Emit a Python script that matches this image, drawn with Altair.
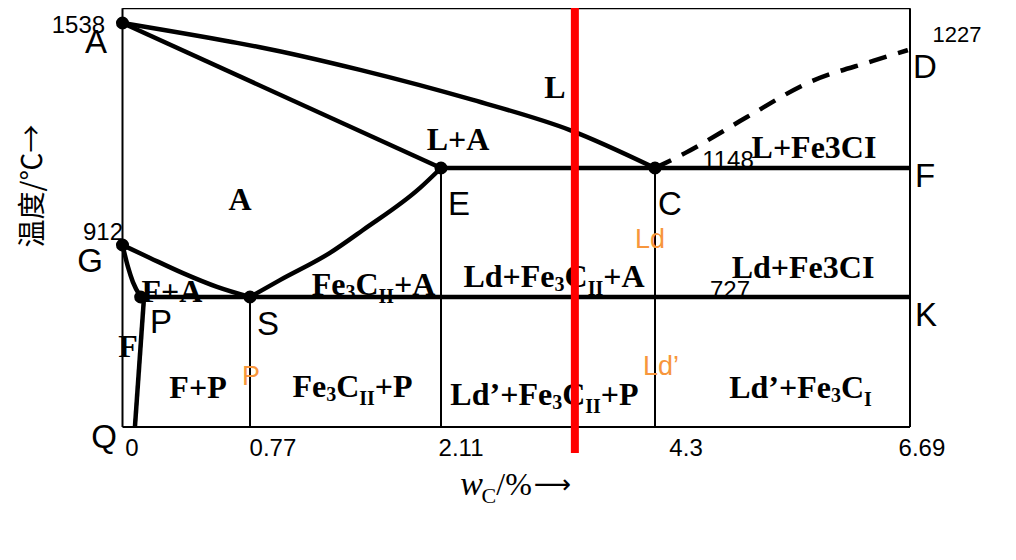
import altair as alt
import pandas as pd

# ---------------- data (wt% C, temperature in degC; schematic diagram) ----------------
x_ticks = [0, 0.77, 2.11, 4.3, 6.69]
x_tick_labels = ["0", "0.77", "2.11", "4.3", "6.69"]
tick_label_c = [0.057, 0.931, 2.315, 4.591, 6.802]
tick_label_t = [-162, -162, -162, -162, -162]
t_breaks = [0, 727, 912, 1148, 1538]

# key points
pt_name = ["A", "G", "P", "S", "E", "C"]
pt_c = [0, 0, 0.11, 0.77, 2.11, 4.3]
pt_t = [1538, 912, 727, 727, 1148, 1148]

# curves
liq_c = [0, 0.662, 0.84, 1.542, 2.437, 3.43, 4.3]
liq_t = [1538, 1487, 1473, 1412, 1331, 1250, 1148]
gs_c = [0, 0.166, 0.365, 0.571, 0.77]
gs_t = [912, 866, 812, 763, 727]
gp_c = [0, 0.033, 0.063, 0.11]
gp_t = [912, 834, 780, 727]
se_c = [0.77, 0.98, 1.331, 1.563, 1.963, 2.11]
se_t = [727, 787, 884, 958, 1087, 1148]
cd_c = [4.3, 4.581, 5.162, 5.734, 6.343, 6.67]
cd_t = [1148, 1188, 1285, 1377, 1436, 1465]

# straight thick lines: (c1, t1, c2, t2)
thick_c1 = [0, 2.11, 0.11, 0.13]
thick_t1 = [1538, 1148, 727, 727]
thick_c2 = [2.11, 6.69, 6.69, 0.075]
thick_t2 = [1148, 1148, 727, 0]

# thin lines: frame and vertical boundaries
frame_top_t = 1578
thin_c1 = [0, 0, 0, 6.69, 0.77, 2.11, 4.3]
thin_t1 = [0, frame_top_t, 0, 0, 0, 0, 0]
thin_c2 = [6.69, 6.69, 0, 6.69, 0.77, 2.11, 4.3]
thin_t2 = [0, frame_top_t, frame_top_t, frame_top_t, 727, 1148, 1148]

# red marker line
red_c = [3.48]
red_t1 = [-145]
red_t2 = [1586]

# text labels
letters = ["A", "G", "P", "S", "Q", "E", "C", "F", "D", "K"]
letter_c = [-0.160, -0.196, 0.233, 0.896, -0.112, 2.294, 4.441, 6.831, 6.831, 6.84]
letter_t = [1457, 816, 526, 515, -117, 1004, 1004, 1090, 1390, 565]

temp_labels = ["1538", "912", "1148", "727"]
temp_c = [-0.266, -0.118, 4.984, 5.003]
temp_t = [1511, 927, 1148, 721]
d_label = ["1227"]
d_label_c = [7.13]
d_label_t = [1487]

bold_labels = ["L", "L+A", "A", "L+Fe3CI", "F+A", "Ld+Fe3CI", "F", "F+P"]
bold_c = [3.277, 2.284, 0.710, 5.790, 0.299, 5.687, 0.033, 0.456]
bold_t = [1336, 1196, 1019, 1175, 699, 795, 391, 162]

rich_texts = [
    [("Fe", "n"), ("3", "s"), ("C", "n"), ("II", "ss"), ("+A", "n")],
    [("Ld+Fe", "n"), ("3", "s"), ("C", "n"), ("II", "ss"), ("+A", "n")],
    [("Fe", "n"), ("3", "s"), ("C", "n"), ("II", "ss"), ("+P", "n")],
    [("Ld\u2019+Fe", "n"), ("3", "s"), ("C", "n"), ("II", "ss"), ("+P", "n")],
    [("Ld\u2019+Fe", "n"), ("3", "s"), ("C", "n"), ("I", "ss")],
]
rich_c = [1.637, 3.266, 1.489, 3.169, 5.664]
rich_t = [734, 763, 168, 123, 162]

orange_labels = ["P", "Ld", "Ld\u2019"]
orange_c = [0.777, 4.249, 4.356]
orange_t = [235, 901, 291]

y_title = ["温度/℃→"]
y_title_c = [-0.534]
y_title_t = [1093]

x_title_parts = [("w", "w"), ("C", "sub"), ("/%", "rest"), ("\u27F6", "arrow")]
x_title_c = 2.888
x_title_t = -380

# ---------------- layout ----------------
W, H = 990, 530
X_RANGE = [114.5, 242, 433, 647, 902]
Y_RANGE = [419, 289, 237, 160, 15]

xs = alt.Scale(domain=x_ticks, range=X_RANGE, nice=False, zero=False)
ys = alt.Scale(domain=t_breaks, range=Y_RANGE, nice=False, zero=False)


def _fwd(v, dom, rng):
    i = 0
    while i < len(dom) - 2 and v > dom[i + 1]:
        i += 1
    return rng[i] + (v - dom[i]) * (rng[i + 1] - rng[i]) / (dom[i + 1] - dom[i])


def _inv(p):
    return _fwd(p, X_RANGE, x_ticks)


def X(f="x"):
    return alt.X(f"{f}:Q", scale=xs, axis=None)


def Y(f="t"):
    return alt.Y(f"{f}:Q", scale=ys, axis=None)


def texts(df, **props):
    return alt.Chart(df).mark_text(**props).encode(x=X(), y=Y(), text="label:N")


def tdf(labels, cs, ts):
    return pd.DataFrame({"label": labels, "x": cs, "t": ts})


# rich (subscripted) labels: split into segments positioned with Times-Bold metrics
WB = {"L": .667, "d": .556, "+": .570, "F": .611, "e": .444, "3": .5, "C": .722,
      "I": .389, "A": .722, "P": .611, "\u2019": .333}
SIZE = {"n": 32, "s": 20, "ss": 20}
rich_rows = {"n": [], "s": [], "ss": []}
for segs, c, t in zip(rich_texts, rich_c, rich_t):
    widths = [sum(WB.get(ch, .5) for ch in s) * SIZE[k] for s, k in segs]
    left = _fwd(c, x_ticks, X_RANGE) - sum(widths) / 2
    for (s, k), w in zip(segs, widths):
        rich_rows[k].append({"label": s, "x": _inv(left), "t": t})
        left += w

WX = {"w": .667 * 32, "sub": .667 * 22, "rest": (.278 + .833) * 32 + 2, "arrow": 40}
xt_rows = {}
left = _fwd(x_title_c, x_ticks, X_RANGE) - sum(WX.values()) / 2
for s, k in x_title_parts:
    xt_rows[k] = pd.DataFrame([{"label": s, "x": _inv(left), "t": x_title_t}])
    left += WX[k]

# ---------------- layers ----------------
thin = alt.Chart(pd.DataFrame({"x": thin_c1, "t": thin_t1, "x2": thin_c2, "t2": thin_t2})).mark_rule(
    color="black", strokeWidth=2).encode(x=X(), y=Y(), x2="x2:Q", y2="t2:Q")

thick = alt.Chart(pd.DataFrame({"x": thick_c1, "t": thick_t1, "x2": thick_c2, "t2": thick_t2})).mark_rule(
    color="black", strokeWidth=4.5).encode(x=X(), y=Y(), x2="x2:Q", y2="t2:Q")

curve_rows = []
for name, cs, ts in [("AC", liq_c, liq_t), ("GS", gs_c, gs_t), ("GP", gp_c, gp_t), ("SE", se_c, se_t)]:
    for i, (c, t) in enumerate(zip(cs, ts)):
        curve_rows.append({"curve": name, "x": c, "t": t, "i": i})
curves = alt.Chart(pd.DataFrame(curve_rows)).mark_line(
    color="black", strokeWidth=4.5, interpolate="monotone").encode(
    x=X(), y=Y(), detail="curve:N", order="i:Q")

cd = alt.Chart(pd.DataFrame({"x": cd_c, "t": cd_t, "i": list(range(len(cd_c)))})).mark_line(
    color="black", strokeWidth=4.5, strokeDash=[18, 12], interpolate="monotone").encode(
    x=X(), y=Y(), order="i:Q")

dots = alt.Chart(pd.DataFrame({"name": pt_name, "x": pt_c, "t": pt_t})).mark_circle(
    color="black", opacity=1, size=170).encode(x=X(), y=Y())

sans = dict(font="Liberation Sans", color="black", align="center", baseline="alphabetic")
serifb = dict(font="Liberation Serif", fontWeight="bold", color="black", baseline="alphabetic")

layers = [
    thin, thick, curves, cd, dots,
    texts(tdf(letters, letter_c, letter_t), fontSize=33, **sans),
    texts(tdf(temp_labels, temp_c, temp_t), fontSize=24, **sans),
    texts(tdf(d_label, d_label_c, d_label_t), fontSize=22, **sans),
    texts(tdf(x_tick_labels, tick_label_c, tick_label_t), fontSize=24, **sans),
    texts(tdf(bold_labels, bold_c, bold_t), fontSize=32, align="center", **serifb),
    texts(pd.DataFrame(rich_rows["n"]), fontSize=32, align="left", **serifb),
    texts(pd.DataFrame(rich_rows["s"]), fontSize=20, align="left", dy=4, **serifb),
    texts(pd.DataFrame(rich_rows["ss"]), fontSize=20, align="left", dy=8, **serifb),
    texts(tdf(orange_labels, orange_c, orange_t), fontSize=27, font="Liberation Sans",
          color="#F7963C", align="center", baseline="alphabetic"),
    texts(tdf(y_title, y_title_c, y_title_t), fontSize=28, font="Noto Sans CJK SC",
          color="black", angle=270, align="center", baseline="middle"),
    texts(xt_rows["w"], fontSize=34, font="Liberation Serif", fontStyle="italic",
          color="black", align="left", baseline="alphabetic"),
    texts(xt_rows["sub"], fontSize=22, font="Liberation Serif", color="black",
          align="left", baseline="alphabetic", dy=8),
    texts(xt_rows["rest"], fontSize=32, font="Liberation Serif", color="black",
          align="left", baseline="alphabetic"),
    texts(xt_rows["arrow"], fontSize=26, font="DejaVu Sans", color="black",
          align="left", baseline="alphabetic", dy=-2),
    alt.Chart(pd.DataFrame({"x": red_c, "t": red_t1, "t2": red_t2})).mark_rule(
        color="#FF0000", strokeWidth=8).encode(x=X(), y=Y(), y2="t2:Q"),
]

chart = alt.layer(*layers).properties(
    width=W, height=H, padding=0, autosize=alt.AutoSizeParams(type="none"),
    background="white",
).configure_view(strokeWidth=0)

chart.save("out.html", embed_options={"renderer": "svg", "actions": False})
